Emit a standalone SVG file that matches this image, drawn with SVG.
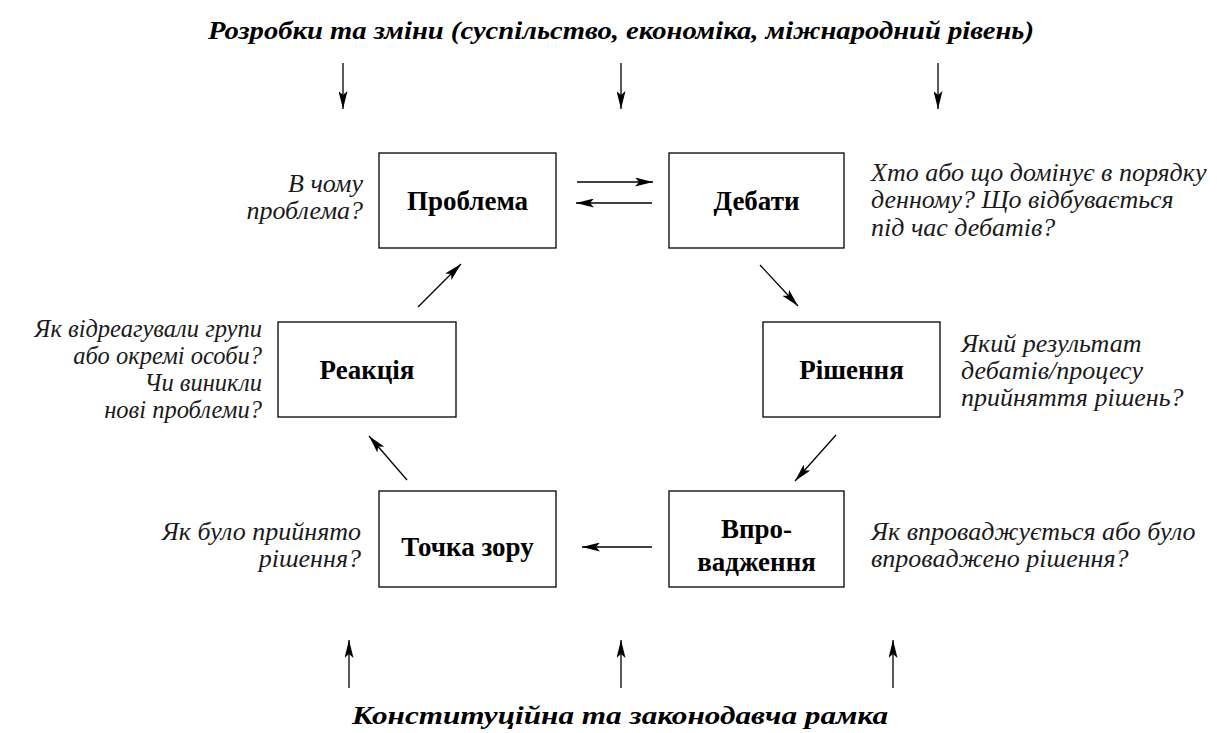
<svg xmlns="http://www.w3.org/2000/svg" width="1217" height="733" viewBox="0 0 1217 733">
<defs>
<marker id="ah" viewBox="0 0 18 9" refX="18" refY="4.5" markerWidth="18" markerHeight="9" markerUnits="userSpaceOnUse" orient="auto">
<path d="M0,0 L18,4.5 L0,9 L4,4.5 Z" fill="#000"/>
</marker>
</defs>
<style>
text{font-family:'Liberation Serif',serif}
.box{fill:#fff;stroke:#000;stroke-width:1.3}
.lbl{font-weight:bold;font-size:27px;fill:#000;text-anchor:middle}
.q{font-style:italic;font-size:26px;fill:#1a1a1a}
.qs{font-size:24.5px}
.qr{text-anchor:end}
.hd{font-style:italic;font-weight:bold;font-size:26px;fill:#000;text-anchor:middle}
.ar{stroke:#000;stroke-width:1.3;fill:none;marker-end:url(#ah)}
</style>
<rect width="1217" height="733" fill="#fff"/>
<text class="hd" x="621" y="39" textLength="826" lengthAdjust="spacingAndGlyphs">Розробки та зміни (суспільство, економіка, міжнародний рівень)</text>
<text class="hd" x="620" y="724" textLength="536" lengthAdjust="spacingAndGlyphs">Конституційна та законодавча рамка</text>
<g id="connectors">
<line class="ar" x1="343" y1="63" x2="343" y2="109"/>
<line class="ar" x1="621" y1="63" x2="621" y2="109"/>
<line class="ar" x1="938" y1="63" x2="938" y2="109"/>
<line class="ar" x1="349" y1="688" x2="349" y2="640"/>
<line class="ar" x1="621" y1="688" x2="621" y2="640"/>
<line class="ar" x1="893" y1="688" x2="893" y2="640"/>
<line class="ar" x1="577" y1="182" x2="653" y2="182"/>
<line class="ar" x1="652" y1="203" x2="576" y2="203"/>
<line class="ar" x1="760" y1="265" x2="798" y2="306"/>
<line class="ar" x1="836" y1="435" x2="795" y2="481"/>
<line class="ar" x1="652" y1="547" x2="582" y2="547"/>
<line class="ar" x1="407" y1="480" x2="369" y2="436"/>
<line class="ar" x1="418" y1="307" x2="461" y2="264"/>
</g>
<g id="problema">
<rect class="box" x="379" y="153" width="177" height="95"/>
<text class="lbl" x="467.5" y="210">Проблема</text>
<text class="q qr" x="363" y="192">В чому</text>
<text class="q qr" x="363" y="219">проблема?</text>
</g>
<g id="debaty">
<rect class="box" x="669" y="153" width="175" height="95"/>
<text class="lbl" x="756.5" y="210">Дебати</text>
<text class="q" x="871" y="181">Хто або що домінує в порядку</text>
<text class="q" x="871" y="208">денному? Що відбувається</text>
<text class="q" x="871" y="236">під час дебатів?</text>
</g>
<g id="rishennya">
<rect class="box" x="763" y="322" width="177" height="95"/>
<text class="lbl" x="851.5" y="379">Рішення</text>
<text class="q" x="961" y="352">Який результат</text>
<text class="q" x="961" y="379">дебатів/процесу</text>
<text class="q" x="961" y="406">прийняття рішень?</text>
</g>
<g id="reaktsiya">
<rect class="box" x="278" y="322" width="178" height="95"/>
<text class="lbl" x="367" y="379">Реакція</text>
<text class="q qs qr" x="262" y="337">Як відреагували групи</text>
<text class="q qs qr" x="262" y="364">або окремі особи?</text>
<text class="q qs qr" x="262" y="391">Чи виникли</text>
<text class="q qs qr" x="262" y="418">нові проблеми?</text>
</g>
<g id="tochka">
<rect class="box" x="379" y="491" width="177" height="96"/>
<text class="lbl" x="467.5" y="556">Точка зору</text>
<text class="q qr" x="361" y="540">Як було прийнято</text>
<text class="q qr" x="361" y="567">рішення?</text>
</g>
<g id="vprovadzhennya">
<rect class="box" x="669" y="491" width="175" height="96"/>
<text class="lbl" x="756.5" y="538">Впро-</text>
<text class="lbl" x="756.5" y="571">вадження</text>
<text class="q" x="871" y="540">Як впроваджується або було</text>
<text class="q" x="871" y="567">впроваджено рішення?</text>
</g>
</svg>
